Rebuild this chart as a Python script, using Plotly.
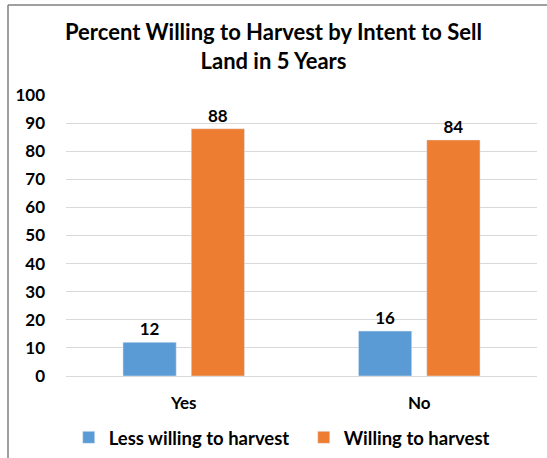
import plotly.graph_objects as go

categories = ["Yes", "No"]
less_willing = [12, 16]
willing = [88, 84]
y_ticks = list(range(0, 101, 10))

FONT = "Lato, 'Open Sans', sans-serif"

fig = go.Figure()
fig.add_trace(go.Bar(
    x=categories, y=less_willing, name="<b>Less willing to harvest</b>  ",
    marker_color="#5B9BD5", texttemplate="<b>%{y}</b>", textposition="outside",
    textfont=dict(size=17, color="#000", family=FONT), cliponaxis=False,
))
fig.add_trace(go.Bar(
    x=categories, y=willing, name="<b>Willing to harvest</b>",
    marker_color="#ED7D31", texttemplate="<b>%{y}</b>", textposition="outside",
    textfont=dict(size=17, color="#000", family=FONT), cliponaxis=False,
))

fig.update_layout(
    width=547, height=458,
    margin=dict(l=66, r=10, t=95, b=82, autoexpand=False),
    paper_bgcolor="white", plot_bgcolor="white",
    font=dict(family=FONT, color="#000"),
    title=dict(
        text="<b>Percent Willing to Harvest by Intent to Sell<br>Land in 5 Years</b>",
        x=0.5, xanchor="center", y=1 - 40 / 458, yanchor="middle",
        font=dict(size=22, family=FONT, color="#000"),
    ),
    barmode="group", bargap=0.42, bargroupgap=0.22,
    showlegend=True,
    legend=dict(
        orientation="h", xref="container", x=0.515, xanchor="center",
        y=-0.22, yanchor="middle",
        font=dict(size=18.5, family=FONT, color="#000"),
        itemwidth=30, tracegroupgap=0,
    ),
    shapes=[
        dict(type="line", xref="paper", yref="paper",
             x0=-58 / 471, x1=1.2, y0=371 / 281, y1=371 / 281,
             line=dict(color="#7f7f7f", width=1.5)),
        dict(type="line", xref="paper", yref="paper",
             x0=-58 / 471, x1=-58 / 471, y0=371 / 281, y1=-0.5,
             line=dict(color="#7f7f7f", width=1.5)),
    ],
)
fig.update_yaxes(
    range=[0, 100], tickvals=y_ticks, ticktext=[f"<b>{v}</b>" for v in y_ticks],
    showgrid=True, gridcolor="#d9d9d9",
    zeroline=False, showline=False, ticklabelstandoff=20, automargin=False,
    tickfont=dict(size=17, family=FONT, color="#000"),
)
fig.update_xaxes(
    showline=True, linecolor="#d9d9d9", ticklabelstandoff=12, automargin=False,
    tickfont=dict(size=17, family=FONT, color="#000"),
    tickvals=categories, ticktext=[f"<b>{c}</b>" for c in categories],
)

fig.write_html("out.html", config={"displayModeBar": False},
               post_script="document.body.style.margin='0';")
